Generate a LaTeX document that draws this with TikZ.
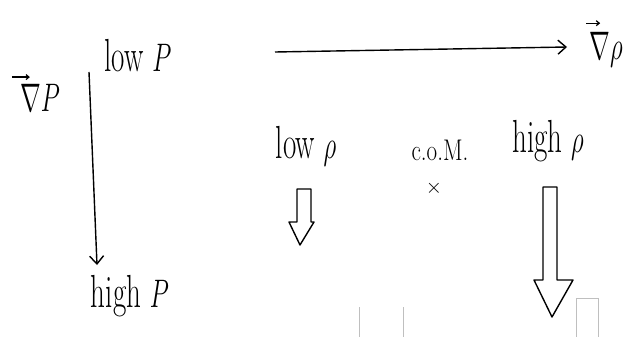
\documentclass[tikz,border=0pt]{standalone}
\usetikzlibrary{arrows.meta}
\begin{document}
\begin{tikzpicture}[x=1pt,y=-1pt,
  hand/.style={font=\fontsize{29}{31}\selectfont, inner sep=0pt, yscale=1.6, transform shape},
  small/.style={font=\fontsize{23}{25}\selectfont, inner sep=0pt, yscale=1.3, transform shape},
  crossmark/.style={font=\fontsize{22}{22}\selectfont, inner sep=0pt},
  thinarrow/.style={line width=1.4pt, -{Straight Barb[length=8pt,width=14pt,line width=1.4pt]}},
  vecarrow/.style={line width=1.2pt, -{Straight Barb[length=3pt,width=5pt,line width=1.2pt]}},
  hollow/.style={line width=1.4pt, line join=round},
  artifact/.style={draw=black!25, line width=0.6pt}]
\useasboundingbox (0,0) rectangle (627,337);
% left part
\node[hand] (gradP) at (40,98) {$\nabla P$};
\draw[vecarrow] ([xshift=-8pt,yshift=7pt]gradP.north west) -- ([xshift=10pt,yshift=7pt]gradP.north west);
\node[hand] (lowP) at (138,56) {low $P$};
\node[hand] (highP) at (130,296) {high $P$};
\coordinate (vtop) at (89,72);
\coordinate (vbot) at (97,265);
\draw[thinarrow] (vtop) -- (vbot);
% right part
\coordinate (hleft) at (275,52);
\coordinate (hright) at (567,47);
\draw[thinarrow] (hleft) -- (hright);
\node[hand] (gradrho) at (606,50) {$\nabla\rho$};
\draw[vecarrow] ([xshift=-3pt,yshift=9pt]gradrho.north west) -- ([xshift=11pt,yshift=9pt]gradrho.north west);
\node[hand] (lowrho) at (306,146) {low $\rho$};
\node[small] (com) at (440,150) {c.o.M.};
\node[crossmark] (cross) at (434,188) {$\times$};
\node[hand] (highrho) at (548,141) {high $\rho$};
% small hollow arrow
\draw[hollow] (297,189) -- (297,222) -- (289,222) -- (300,245) -- (314,222) -- (311,222) -- (311,189) -- cycle;
% large hollow arrow
\draw[hollow] (543,187) -- (543,280) -- (534,280) -- (552,317) -- (573,280) -- (557,280) -- (557,187) -- cycle;
% scan artifacts
\draw[artifact] (359,307) -- (359,337);
\draw[artifact] (403,307) -- (403,337);
\draw[artifact] (576,337) -- (576,298) -- (598,298) -- (598,337);
\end{tikzpicture}
\end{document}
